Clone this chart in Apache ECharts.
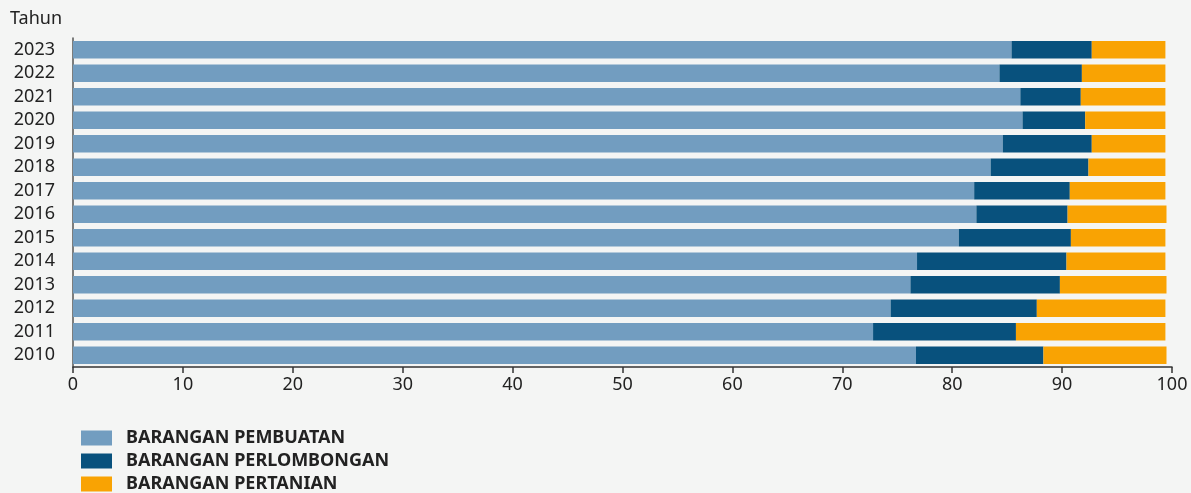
<!DOCTYPE html>
<html>
<head>
<meta charset="utf-8">
<script src="https://cdn.jsdelivr.net/npm/echarts@6/dist/echarts.min.js"></script>
<style>
    html, body { margin: 0; padding: 0; background: #f4f5f4; }
    #chart { width: 1191px; height: 493px; }
</style>
</head>
<body>
<div id="chart"></div>
<script>
// tahun, dari bawah ke atas
var years = ['2010','2011','2012','2013','2014','2015','2016','2017','2018','2019','2020','2021','2022','2023'];
var pembuatan    = [76.7, 72.8, 74.4, 76.2, 76.8, 80.6, 82.2, 82.0, 83.5, 84.6, 86.4, 86.2, 84.3, 85.4];
var perlombongan = [11.6, 13.0, 13.3, 13.6, 13.6, 10.2,  8.3,  8.7,  8.9,  8.1,  5.7,  5.5,  7.5,  7.3];
var pertanian    = [11.2, 13.6, 11.7,  9.7,  9.0,  8.6,  9.0,  8.7,  7.0,  6.7,  7.3,  7.7,  7.6,  6.7];
var seriesNames = ['BARANGAN PEMBUATAN', 'BARANGAN PERLOMBONGAN', 'BARANGAN PERTANIAN'];
var seriesColors = ['#729dc0', '#08517d', '#f9a303'];

var chart = echarts.init(document.getElementById('chart'));
var font = '"Noto Sans", sans-serif';

var option = {
    backgroundColor: '#f4f5f4',
    animation: false,
    color: seriesColors,
    textStyle: { fontFamily: font },
    grid: {
        left: 73,
        right: 19,
        top: 38,
        height: 329,
        containLabel: false
    },
    legend: {
        orient: 'vertical',
        left: 81,
        top: 429,
        padding: 0,
        itemWidth: 31,
        itemHeight: 15,
        itemGap: 5,
        icon: 'rect',
        textStyle: { fontFamily: font, fontSize: 18, fontWeight: 'bold', color: '#222', padding: [0, 0, 0, 9] },
        data: seriesNames
    },
    xAxis: {
        type: 'value',
        min: 0,
        max: 100,
        interval: 10,
        axisLine: { show: true, lineStyle: { color: '#333', width: 1.5 } },
        axisTick: { show: true, length: 6, lineStyle: { color: '#333', width: 1.5 } },
        axisLabel: { fontFamily: font, fontSize: 18, color: '#222', margin: 9 },
        splitLine: { show: false }
    },
    yAxis: {
        type: 'category',
        data: years,
        name: 'Tahun',
        nameLocation: 'end',
        nameGap: 10,
        nameTextStyle: { fontFamily: font, fontSize: 18, color: '#222', align: 'left', padding: [0, 0, 0, -63] },
        axisLine: { show: true, lineStyle: { color: '#555', width: 1.5 } },
        axisTick: { show: false },
        axisLabel: { fontFamily: font, fontSize: 18, color: '#222', margin: 18, padding: [4, 0, 0, 0] }
    },
    series: []
};

var seriesData = [pembuatan, perlombongan, pertanian];
for (var i = 0; i < seriesData.length; i++) {
    option.series.push({
        name: seriesNames[i],
        type: 'bar',
        stack: 'total',
        barCategoryGap: '25%',
        data: seriesData[i]
    });
}

chart.setOption(option, true);
window.onresize = function () {
    chart.resize();
};
</script>
</body>
</html>
